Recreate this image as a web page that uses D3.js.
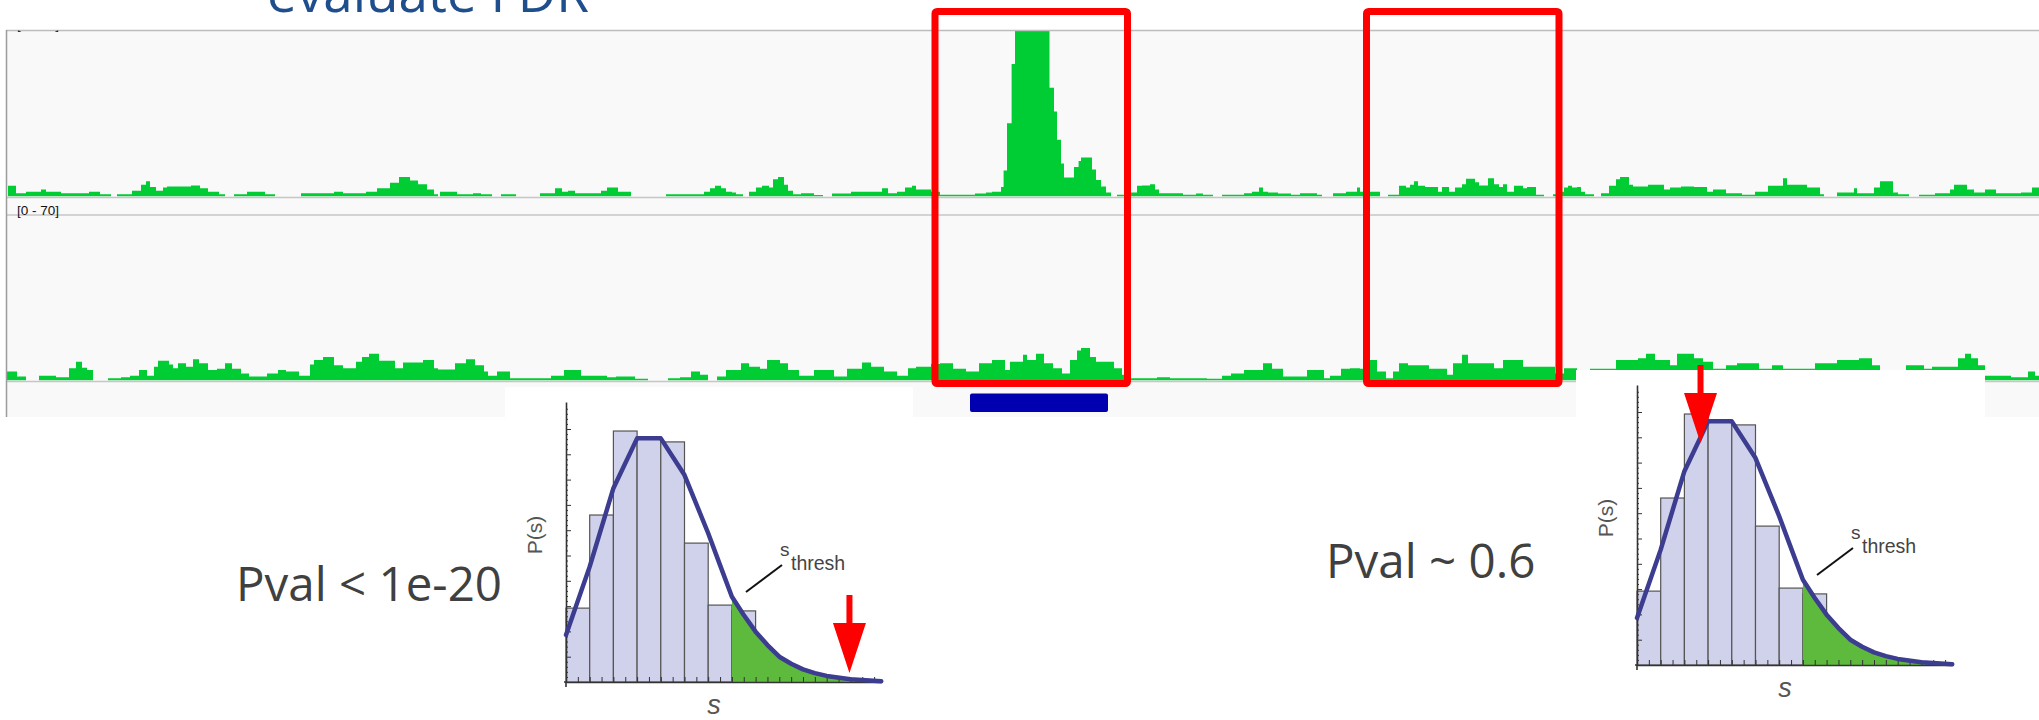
<!DOCTYPE html>
<html><head><meta charset="utf-8">
<script src="https://cdn.jsdelivr.net/npm/d3@7"></script>
<style>body{margin:0;background:#fff;overflow:hidden}svg{display:block}</style>
</head><body>
<svg id="c" width="2039" height="720"></svg>
<script>
// ---------------- DATA ----------------
const titleText = "evaluate FDR";
const trackRangeLabel = "[0 - 70]";
const trackDomain = [0, 70];
// coverage runs: [locus (bin), reads] – value holds until next locus
const track1Runs = [[6,0],[8,4.5],[16,1.4],[26,2],[41,3],[46,2],[61,1.4],[89,2],[100,1],[111,0],[117,1],[132,2.4],[141,5],[146,6.5],[150,4],[156,2.4],[163,3.8],[167,4.2],[191,4.7],[200,3.5],[208,2],[219,1],[225,0],[234,1],[247,2],[265,1],[275,0],[301,1.4],[334,2],[343,1.4],[366,2],[377,3.5],[390,5.8],[399,8.2],[410,6.8],[418,5.2],[427,3],[434,1],[438,0],[440,2],[457,1],[473,1.4],[481,1],[492,0],[501,1],[516,0],[540,1.4],[555,3.5],[562,2],[568,2.4],[575,1.4],[601,2.4],[607,3.8],[618,2],[631,0],[666,1],
[680,1],[704,2],[710,3.5],[715,4.5],[721,3.5],[726,2],[732,1.7],[736,1],[743,0],[749,2],[756,3.8],[762,4.5],[769,3.8],[773,7.3],[778,8.2],[784,5],[788,2.4],[793,1],[801,1.4],[814,0.6],[823,0],[832,1.3],[851,2],[882,3.5],[888,1.4],[897,2],[905,3.8],[912,4.5],[916,3],[931,2],[940,0.7],[975,1.3],[986,1.7],[992,2],[1001,4],[1003.6,11],[1007,31],[1011.6,56],[1015,90],[1049.5,46],[1054,36],[1057,24],[1061,14],[1064,8],[1074,12.5],[1078.6,15],[1081,16.5],[1092,11.4],[1096,7],[1101,4.2],[1106,1.7],[1111,0],[1117,0.7],[1131,1.7],[1137,4.5],[1142,4.7],[1150,5.2],[1155,3],[1159,1.4],[1183,0.7],[1196,1.3],[1203,0.7],[1213,0],[1222,0.7],[1244,1.4],[1252,2],[1259,3.8],[1263,2],[1268,1.7],[1278,1.3],[1291,0.7],[1300,1.4],[1317,0.7],[1322,0],[1333,1.4],[1346,2],[1357,3.8],
[1360,2],[1369,2],[1380,0],[1388,0.7],[1399,4.5],[1406,3.8],[1410,5],[1414,6.5],[1418,4.5],[1425,4],[1438,2],[1442,4],[1449,2],[1455,3.8],[1462,5.2],[1466,7.5],[1475,6],[1479,4.7],[1488,7.7],[1494,5.2],[1499,4],[1503,5.2],[1507,2],[1514,4.5],[1523,3.5],[1527,4],[1536,0.7],[1544,0],[1553,1],[1557,2],[1564,3.8],[1568,4.5],[1572,3.8],[1577,4],[1581,2],[1585,1],[1594,0],[1601,1.4],[1609,4.5],[1616,7.3],[1620,8.2],[1629,5],[1633,4.2],[1648,5],[1664,3],[1670,3.8],[1681,4.2],[1694,4],[1707,2],[1713,3],[1726,1.4],[1742,0.7],[1755,2],[1768,4.5],[1783,7.7],[1787,5],[1807,3.8],[1820,1],[1824,0],[1837,1.7],[1854,3.5],[1857,1.4],[1874,3.8],[1880,6.5],[1893,1.7],[1898,1],[1909,0],[1919,0.7],[1935,1.4],[1950,3],[1954,5],[1967,3],[1974,1.7],[1985,3],[1996,1.4],[2021,1.7],[2032,3.8],[2039,3.8]];
const track2Runs = [[6,3.8],[17,1.7],[26,0],[39,2],[56,1.4],[69,5.2],[76,8],[82,5.4],[87,4.5],[93,0],[108,1],[121,1.4],[130,2],[139,4.5],[147,2],[154,5.8],[158,8.4],[169,6.8],[173,5.2],[178,7.3],[186,5.8],[193,9],[199,7.3],[208,4.5],[217,5],[225,7.3],[232,5],[241,3],[249,1.7],[267,3],[278,4.5],[286,3.8],[299,2],[310,6.8],[314,8.7],[323,10],[334,6.5],[343,5.2],[356,8],[362,10],[369,11.4],[379,8.4],[395,5.2],[403,7.7],[423,8.7],[434,5.2],[438,4.7],[455,7.3],[466,9],[475,6.5],[484,3.8],[488,2],[497,3.8],[510,1],[551,2],[564,4.5],[581,2],[607,1.4],[616,1.7],[635,0.7],[648,0],[668,1],
[680,1.4],[691,3.8],[700,2.4],[708,0],[717,1.7],[726,4.5],[741,7.3],[749,5.8],[760,5],[767,8.7],[780,7.3],[788,4.5],[799,2],[814,4.5],[834,1.7],[847,5],[862,7.7],[871,5.8],[884,3.8],[897,2],[908,5.2],[916,5.8],[931,7],[940,7.3],[953,5],[966,3.8],[979,7.3],[992,8.7],[1005,4.5],[1010,8],[1023,11],[1027,8.7],[1036,11.4],[1044,7.3],[1053,5.2],[1062,3],[1070,8.7],[1077,12.8],[1081,13.8],[1090,10],[1096,8],[1114,5.2],[1122,2.4],[1131,1],[1157,1.4],[1170,1],[1207,0.7],[1222,2],[1231,3],[1244,4.5],[1263,7.3],[1272,5],[1283,1.7],[1307,4.5],[1324,1],[1330,2],[1341,5],[1350,5.2],
[1360,5],[1369,8.7],[1377,3.8],[1386,1],[1393,3.8],[1399,7.3],[1408,6.5],[1429,5],[1447,2.4],[1453,7.3],[1462,11],[1468,7.3],[1494,5.2],[1503,8.7],[1523,5.8],[1555,3],[1564,5.2],[1577,2],[1590,5],[1616,8.7],[1638,9.5],[1646,11.4],[1655,8.7],[1670,6.5],[1677,11.4],[1694,9.5],[1703,8],[1713,5],[1726,6.5],[1737,7.3],[1759,5],[1772,6.5],[1783,5],[1815,7.3],[1837,8.7],[1859,9.5],[1872,6.5],[1880,3],[1906,6.5],[1924,5],[1932,5.8],[1958,9.5],[1965,11.4],[1971,9.5],[1978,6.5],[1985,2],[2011,1.4],[2028,3.8],[2035,2],[2039,2]];
const highlightWindows = [[935, 1127.5], [1366.5, 1559]];
const peakCall = [970, 1108];
// null distribution histogram
const histBins = [0, 1, 2, 3, 4, 5, 6, 7];
const histValues = [2.92, 6.6, 9.92, 9.64, 9.49, 5.49, 3.04, 2.81];
const curveS = [0, 1, 2, 3, 4, 5, 6, 6.5, 7, 7.5, 8, 8.5, 9, 9.5, 10, 10.5, 11, 12, 13.3];
const curveP = [1.86, 4.56, 7.66, 9.63, 9.63, 8.18, 5.88, 4.62, 3.37, 2.65, 1.99, 1.46, 1.0, 0.72, 0.5, 0.35, 0.24, 0.11, 0.03];
const sThresh = 7;
const sMax = 13.3, pMax = 11.07;
const pvalLabels = ["Pval < 1e-20", "Pval ~ 0.6"];
const observedS = [11.96, 2.68];
const observedP = [0.36, 8.77];

// ---------------- DRAW ----------------
const svg = d3.select("#c");
const xg = d3.scaleLinear().domain([0, 2039]).range([0, 2039]);

const panel = {x0: 6, x1: 2039, y0: 30, y1: 417};
svg.append("rect").attr("x", panel.x0).attr("y", panel.y0)
  .attr("width", panel.x1 - panel.x0).attr("height", panel.y1 - panel.y0).attr("fill", "#f9f9f9");

const tracks = [
  {runs: track1Runs, top: 31, base: 196.5, id: "t1"},
  {runs: track2Runs, top: 216, base: 380.5, id: "t2"}
];
const defs = svg.append("defs");
tracks.forEach(t => {
  const y = d3.scaleLinear().domain(trackDomain).range([t.base, t.top]);
  defs.append("clipPath").attr("id", "clip-" + t.id).append("rect")
    .attr("x", panel.x0).attr("y", t.top).attr("width", panel.x1 - panel.x0).attr("height", t.base - t.top);
  const area = d3.area().curve(d3.curveStepAfter)
    .x(d => xg(d[0])).y0(y(0)).y1(d => y(d[1]));
  svg.append("path").datum(t.runs).attr("d", area)
    .attr("fill", "#00cc33").attr("clip-path", "url(#clip-" + t.id + ")");
});

// panel lines
[[30.5, "#bdbdbd"], [197.5, "#c6c6c6"], [215, "#c6c6c6"], [381.5, "#c6c6c6"]].forEach(([yy, c]) => {
  svg.append("line").attr("x1", panel.x0).attr("x2", panel.x1).attr("y1", yy).attr("y2", yy)
    .attr("stroke", c).attr("stroke-width", 1.5);
});
svg.append("line").attr("x1", 6.5).attr("x2", 6.5).attr("y1", panel.y0).attr("y2", panel.y1)
  .attr("stroke", "#9c9c9c").attr("stroke-width", 1.5);

// track range labels
defs.append("clipPath").attr("id", "clip-lbl").append("rect")
  .attr("x", 0).attr("y", 30.5).attr("width", 200).attr("height", 20);
svg.append("text").attr("x", 17).attr("y", 29).text(trackRangeLabel)
  .attr("font-family", "Liberation Sans, Arial, sans-serif").attr("font-size", 13.5).attr("fill", "#111")
  .attr("clip-path", "url(#clip-lbl)");
svg.append("text").attr("x", 17).attr("y", 214.5).text(trackRangeLabel)
  .attr("font-family", "Liberation Sans, Arial, sans-serif").attr("font-size", 13.5).attr("fill", "#111");

// white backgrounds of histogram images
const histBoxes = [{x: 505, y: 387, w: 408, h: 333}, {x: 1576, y: 370, w: 409, h: 350}];
histBoxes.forEach(b => svg.append("rect").attr("x", b.x).attr("y", b.y).attr("width", b.w).attr("height", b.h).attr("fill", "#fff"));

// peak call bar
svg.append("rect").attr("x", xg(peakCall[0])).attr("y", 393.5)
  .attr("width", xg(peakCall[1]) - xg(peakCall[0])).attr("height", 18.5)
  .attr("rx", 2).attr("fill", "#0000b0");

// highlight windows
svg.selectAll("rect.win").data(highlightWindows).enter().append("rect").attr("class", "win")
  .attr("x", d => xg(d[0])).attr("y", 11.5)
  .attr("width", d => xg(d[1]) - xg(d[0])).attr("height", 372)
  .attr("rx", 2).attr("fill", "none").attr("stroke", "#ff0000").attr("stroke-width", 7);

// histograms
const origins = [[566, 682], [1637, 665]];
const pvalPos = [[236, 601], [1326, 578]];
const curvePts = curveS.map((s, i) => ({s, p: curveP[i]}));
const xs = d3.scaleLinear().domain([0, sMax]).range([0, 23.7 * sMax]);
const ys = d3.scaleLinear().domain([0, pMax]).range([0, -25.3 * pMax]);

origins.forEach((o, k) => {
  const g = svg.append("g").attr("transform", `translate(${o[0]},${o[1]})`);
  g.selectAll("rect.bar").data(histBins).enter().append("rect").attr("class", "bar")
    .attr("x", d => xs(d)).attr("width", xs(1) - xs(0))
    .attr("y", (d, i) => ys(histValues[i])).attr("height", (d, i) => -ys(histValues[i]))
    .attr("fill", "#d0d1ea").attr("stroke", "#555").attr("stroke-width", 1.2);

  const cid = "tail" + k;
  defs.append("clipPath").attr("id", cid).append("rect")
    .attr("x", o[0] + xs(sThresh)).attr("y", o[1] - 300).attr("width", xs(sMax) - xs(sThresh) + 5).attr("height", 300);
  const tailG = svg.append("g").attr("clip-path", `url(#${cid})`)
    .append("g").attr("transform", `translate(${o[0]},${o[1]})`);
  tailG.append("path").datum(curvePts)
    .attr("d", d3.area().curve(d3.curveLinear).x(d => xs(d.s)).y0(0).y1(d => ys(d.p)))
    .attr("fill", "#5eba3c");
  const g2 = svg.append("g").attr("transform", `translate(${o[0]},${o[1]})`);
  // axes
  const yMinor = d3.range(0.2, pMax, 0.2).filter(v => Math.abs(v - Math.round(v)) > 0.05);
  const yaM = g2.append("g").call(d3.axisRight(ys).tickValues(yMinor).tickSize(2).tickSizeOuter(0).tickFormat(""));
  yaM.select(".domain").remove();
  const ya = g2.append("g").call(d3.axisRight(ys).tickValues(d3.range(1, 11, 1)).tickSize(5).tickSizeOuter(0).tickFormat(""));
  const xa = g2.append("g").call(d3.axisTop(xs).tickValues(d3.range(0.5, 13.01, 0.5)).tickSize(5).tickSizeOuter(0).tickFormat(""));
  [ya, yaM, xa].forEach(a => {
    a.selectAll("path,line").attr("stroke", "#333");
    a.select(".domain").attr("stroke-width", 1.6);
  });
  g2.append("line").attr("x1", 0).attr("x2", 0).attr("y1", 0).attr("y2", 5).attr("stroke", "#333").attr("stroke-width", 1.6);
  g2.append("line").attr("x1", -2).attr("x2", 0).attr("y1", 0).attr("y2", 0).attr("stroke", "#333").attr("stroke-width", 1.6);
  // curve
  g2.append("path").datum(curvePts)
    .attr("d", d3.line().curve(d3.curveLinear).x(d => xs(d.s)).y(d => ys(d.p)))
    .attr("fill", "none").attr("stroke", "#3c3c90").attr("stroke-width", 4.5)
    .attr("stroke-linecap", "round").attr("stroke-linejoin", "round");
  // labels
  g2.append("text").attr("transform", "translate(-24,-147) rotate(-90)")
    .attr("text-anchor", "middle").text("P(s)")
    .attr("font-family", "Liberation Sans, Arial, sans-serif").attr("font-size", 21).attr("fill", "#555");
  g2.append("text").attr("x", 214).attr("y", -126.5).text("s")
    .attr("font-family", "Liberation Sans, Arial, sans-serif").attr("font-size", 19).attr("fill", "#444");
  g2.append("text").attr("x", 225).attr("y", -112.5).text("thresh")
    .attr("font-family", "Liberation Sans, Arial, sans-serif").attr("font-size", 19.5).attr("fill", "#444");
  g2.append("line").attr("x1", 180).attr("y1", -90).attr("x2", 216).attr("y2", -117)
    .attr("stroke", "#111").attr("stroke-width", 2);
  g2.append("text").attr("x", 148).attr("y", 32).attr("text-anchor", "middle").text("s")
    .attr("font-family", "Liberation Sans, Arial, sans-serif").attr("font-style", "italic")
    .attr("font-size", 27).attr("fill", "#555");
  // observed score arrow
  const tx = xs(observedS[k]), ty = ys(observedP[k]);
  const arrow = [[-3, -78], [3, -78], [3, -50], [16.5, -50], [0, 0], [-16.5, -50], [-3, -50]];
  g2.append("path").attr("d", d3.line()(arrow.map(p => [tx + p[0], ty + p[1]])) + "Z").attr("fill", "#ff0000");
  // p-value label
  svg.append("text").attr("x", pvalPos[k][0]).attr("y", pvalPos[k][1]).text(pvalLabels[k])
    .attr("font-family", "Open Sans, sans-serif").attr("font-size", 47.5).attr("fill", "#404040");
});

// title (cut off at top, as in the reference slide)
svg.append("text").attr("x", 267).attr("y", 12).text(titleText)
  .attr("font-family", "Open Sans, sans-serif").attr("font-size", 53).attr("fill", "#1f4e8c");
</script>
</body></html>
